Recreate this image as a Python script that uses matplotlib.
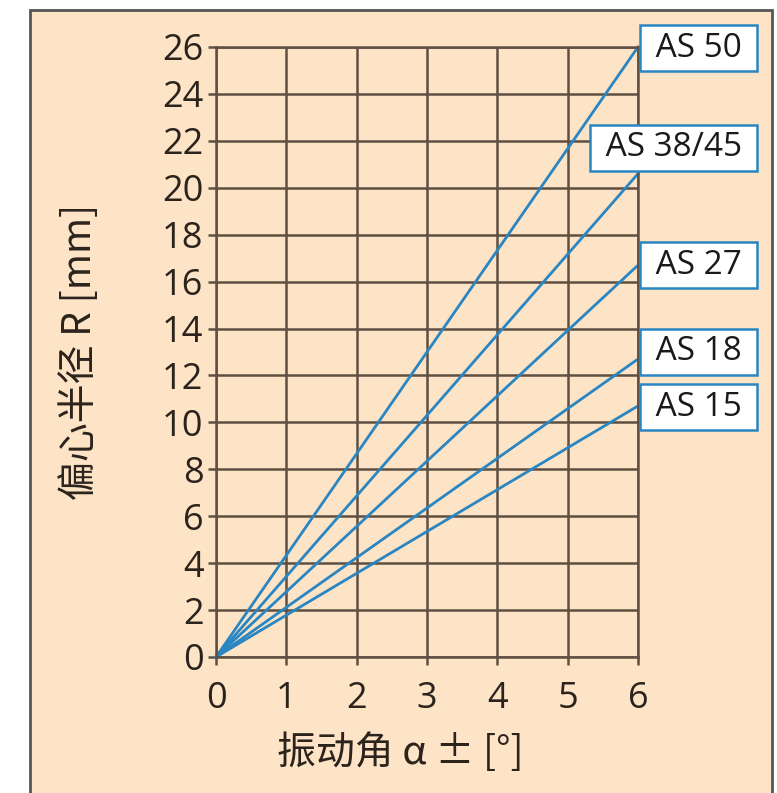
import matplotlib
matplotlib.use("Agg")
import matplotlib.pyplot as plt
from matplotlib.patches import Rectangle

# chart data
angle = [0, 6]
series_names = ["AS 50", "AS 38/45", "AS 27", "AS 18", "AS 15"]
radius_at_6 = [26.0, 20.6, 16.7, 12.7, 10.7]
x_ticks = [0, 1, 2, 3, 4, 5, 6]
y_ticks = [0, 2, 4, 6, 8, 10, 12, 14, 16, 18, 20, 22, 24, 26]
# label box centres (y in data units) and left edges (x in data units)
label_y = [25.95, 21.7, 16.7, 13.0, 10.65]
label_x = [6.128, 5.417, 6.128, 6.128, 6.128]

plt.rcParams['font.family'] = ['Open Sans', 'Noto Sans CJK SC', 'DejaVu Sans']

bg = '#fde4c6'
grid_col = '#5e4f42'
line_col = '#2a86c2'
text_col = '#2b231c'

fig = plt.figure(figsize=(7.77, 7.93), dpi=100)
fig.patch.set_facecolor('white')

# beige panel behind the chart
panel = Rectangle((30 / 777, -0.02), 742 / 777, 1 - 10 / 793 + 0.02,
                  transform=fig.transFigure, facecolor=bg,
                  edgecolor='#555555', linewidth=2.0, zorder=-10)
fig.patches.append(panel)

ax = fig.add_axes([216 / 777, 1 - 657 / 793, 422 / 777, 610 / 793])
ax.set_facecolor(bg)
ax.set_xlim(0, 6)
ax.set_ylim(0, 26)
ax.set_xticks(x_ticks)
ax.set_yticks(y_ticks)
ax.grid(True, color=grid_col, linewidth=1.8)
ax.set_axisbelow(True)
for s in ax.spines.values():
    s.set_color(grid_col)
    s.set_linewidth(1.8)
ax.tick_params(colors=grid_col, width=1.8, length=6, labelsize=26,
               labelcolor=text_col)
ax.tick_params(axis='y', pad=3)
ax.tick_params(axis='x', pad=11)

for name, r in zip(series_names, radius_at_6):
    ax.plot(angle, [0, r], color=line_col, linewidth=2.0, clip_on=False)

for name, lx, ly in zip(series_names, label_x, label_y):
    ax.text(lx, ly, " " + name + " ", fontsize=24, color='#1a1a1a',
            ha='left', va='center', clip_on=False,
            bbox=dict(boxstyle='square,pad=0.2', facecolor='white',
                      edgecolor=line_col, linewidth=1.8))

ax.set_xlabel('振动角 α ± [°]', fontsize=28, color=text_col,
              family=['Noto Sans CJK SC', 'DejaVu Sans'])
ax.set_ylabel('偏心半径 R [mm]', fontsize=28, color=text_col,
              family=['Noto Sans CJK SC', 'DejaVu Sans'])
ax.xaxis.set_label_coords(0.436, -0.124)
ax.yaxis.set_label_coords(-0.275, 0.5)

fig.savefig('out.png', dpi=100, facecolor='white')
